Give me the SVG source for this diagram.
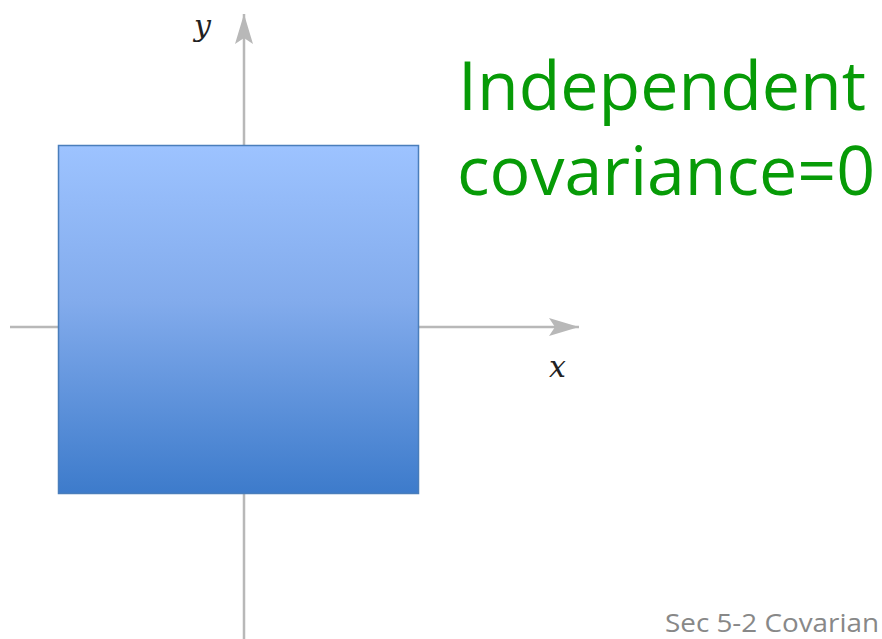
<svg xmlns="http://www.w3.org/2000/svg" width="882" height="639" viewBox="0 0 882 639">
<defs>
<linearGradient id="g" x1="0" y1="0" x2="0" y2="1">
<stop offset="0" stop-color="#9dc3ff"/>
<stop offset="0.45" stop-color="#82abec"/>
<stop offset="1" stop-color="#3d7bcb"/>
</linearGradient>
<marker id="ah" viewBox="0 0 30 18" refX="30" refY="9" markerWidth="30" markerHeight="18" markerUnits="userSpaceOnUse" orient="auto">
<path d="M0,0 L30,9 L0,18 L6,9 Z" fill="#b8b8b8"/>
</marker>
<style>
.axis{stroke:#b8b8b8;stroke-width:2.5;fill:none}
.lbl{font-family:"DejaVu Serif","Liberation Serif",serif;font-style:italic;font-size:30px;fill:#222}
.big{font-family:"Open Sans","Noto Sans",sans-serif;font-size:68px;fill:#079b07}
</style>
</defs>
<rect width="882" height="639" fill="#ffffff"/>
<g id="connectors">
<line class="axis" x1="244" y1="639" x2="244" y2="14" marker-end="url(#ah)"/>
<line class="axis" x1="10" y1="327" x2="579" y2="327" marker-end="url(#ah)"/>
</g>
<g id="box">
<rect x="58.5" y="145.5" width="360" height="348" fill="url(#g)" stroke="#4a7ebb" stroke-width="1.5"/>
</g>
<g id="labels">
<text class="lbl" x="194" y="36">y</text>
<text class="lbl" x="549" y="377">x</text>
<text class="big" x="458" y="110" textLength="408" lengthAdjust="spacingAndGlyphs">Independent</text>
<text class="big" x="457" y="195" textLength="418" lengthAdjust="spacingAndGlyphs">covariance=0</text>
<text x="665" y="632" font-family="'Open Sans','Noto Sans',sans-serif" font-size="26" fill="#888888" textLength="214" lengthAdjust="spacingAndGlyphs">Sec 5-2 Covarian</text>
</g>
</svg>
